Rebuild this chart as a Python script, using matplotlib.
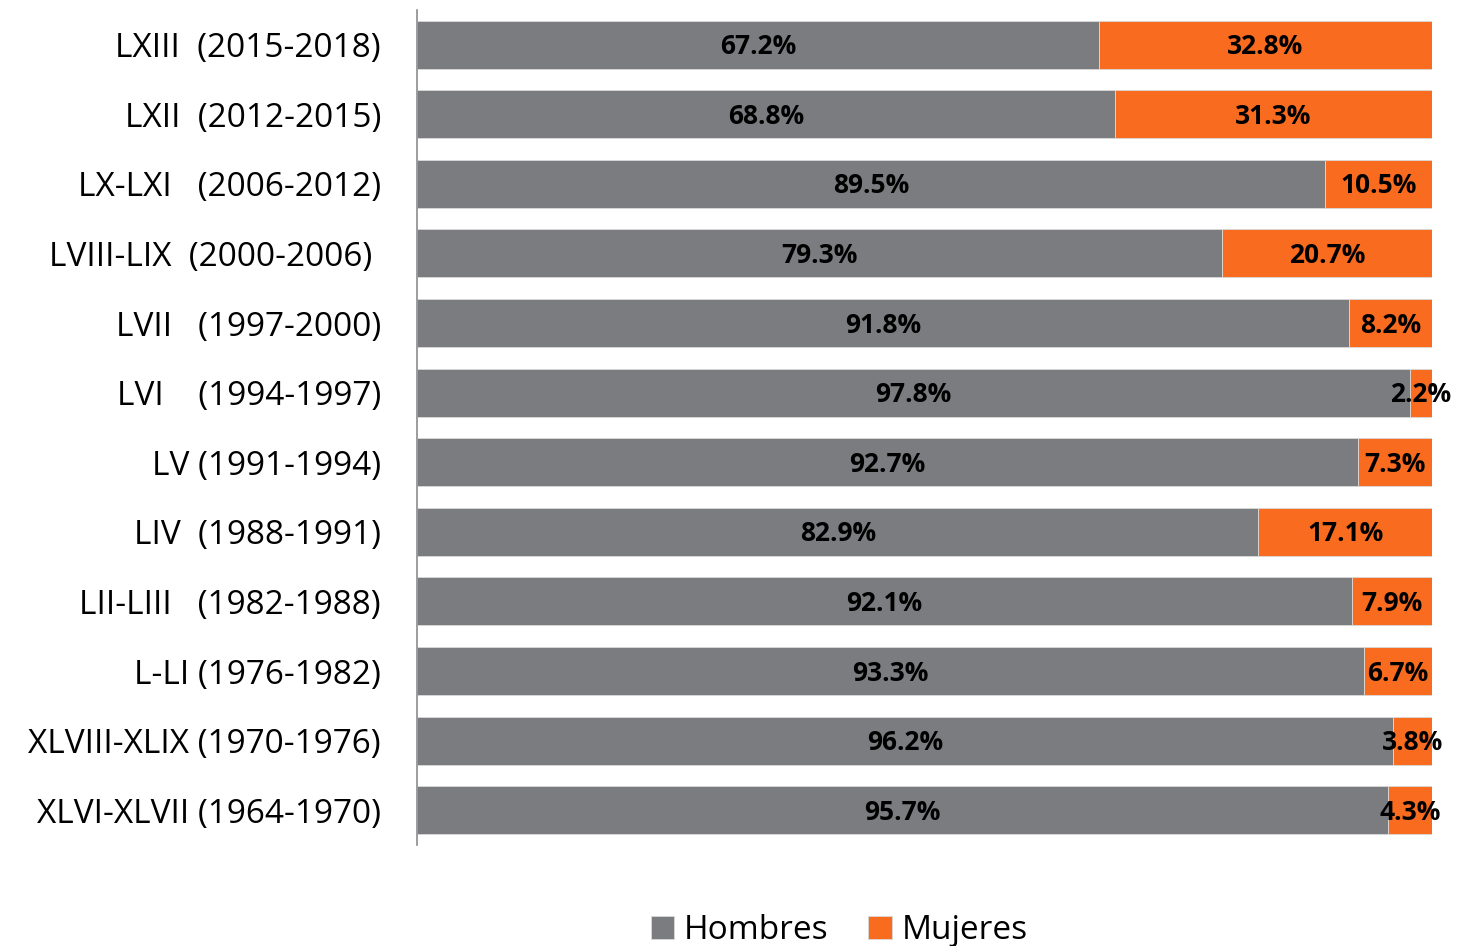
import numpy as np
import matplotlib.pyplot as plt

plt.rcParams['font.family'] = ['Open Sans', 'DejaVu Sans']

legislaturas = ['LXIII  (2015-2018)', 'LXII  (2012-2015)', 'LX-LXI   (2006-2012)',
                'LVIII-LIX  (2000-2006) ', 'LVII   (1997-2000)', 'LVI    (1994-1997)',
                'LV (1991-1994)', 'LIV  (1988-1991)', 'LII-LIII   (1982-1988)',
                'L-LI (1976-1982)', 'XLVIII-XLIX (1970-1976)', 'XLVI-XLVII (1964-1970)']
hombres = [67.2, 68.8, 89.5, 79.3, 91.8, 97.8, 92.7, 82.9, 92.1, 93.3, 96.2, 95.7]
mujeres = [32.8, 31.3, 10.5, 20.7, 8.2, 2.2, 7.3, 17.1, 7.9, 6.7, 3.8, 4.3]

gris = '#7b7c80'
naranja = '#f96b1e'

fig = plt.figure(figsize=(14.57, 9.46), dpi=100)
ax = fig.add_axes([0.2862, 0.1068, 0.6966, 0.8827])

y = np.arange(len(legislaturas))
h = np.array(hombres)
m = np.array(mujeres)
total = h + m
h_w = h / total * 100
m_w = m / total * 100

ax.barh(y, h_w, height=0.69, color=gris, edgecolor='#d9d9d9', linewidth=0.6, label='Hombres')
ax.barh(y, m_w, left=h_w, height=0.69, color=naranja, edgecolor='#d9d9d9', linewidth=0.6, label='Mujeres')

for i in range(len(y)):
    ax.text(h_w[i] / 2, y[i] + 0.03, f'{hombres[i]:.1f}%', ha='center', va='center',
            fontsize=19, fontweight='bold', color='black')
    ax.text(h_w[i] + m_w[i] / 2, y[i] + 0.03, f'{mujeres[i]:.1f}%', ha='center', va='center',
            fontsize=19, fontweight='bold', color='black')

ax.set_xlim(0, 100)
ax.set_ylim(len(y) - 0.5, -0.5)
ax.set_yticks(y)
ax.set_yticklabels(legislaturas, fontsize=24)
ax.tick_params(axis='y', length=0, pad=26)
ax.set_xticks([])
for s in ['top', 'right', 'bottom']:
    ax.spines[s].set_visible(False)
ax.spines['left'].set_color('#8c8c8c')
ax.spines['left'].set_linewidth(1.2)

fig.legend(loc='center', bbox_to_anchor=(0.576, 0.016), ncol=2, frameon=False,
           fontsize=24, handlelength=0.7, handleheight=0.7, handletextpad=0.3,
           columnspacing=1.2)

fig.savefig('out.png', dpi=100)
